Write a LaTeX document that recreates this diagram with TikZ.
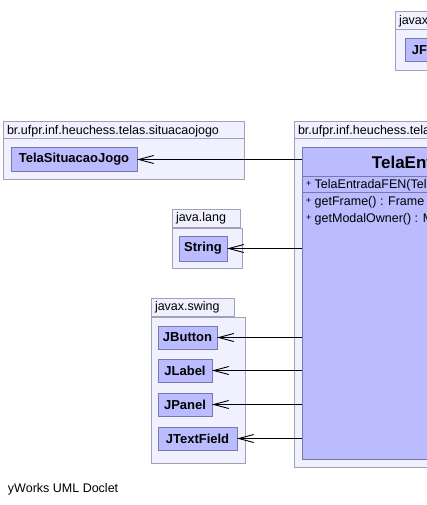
\documentclass[tikz,border=0pt]{standalone}
\usepackage{fontspec}
\setmainfont{Liberation Sans}
\usetikzlibrary{arrows.meta, positioning}

\definecolor{pkgfill}{RGB}{240,240,255}
\definecolor{pkgline}{RGB}{160,160,184}
\definecolor{classfill}{RGB}{187,187,255}
\definecolor{classline}{RGB}{120,120,170}

\begin{document}
\begin{tikzpicture}[
    x=1pt, y=-1pt,
    every node/.style={inner sep=0pt, outer sep=0pt},
    pkgtab/.style={rectangle, draw=pkgline, fill=pkgfill, line width=1pt, anchor=north west, minimum height=18pt, inner xsep=4pt, text width=#1, align=left, font=\fontsize{12.5}{14}\selectfont},
    pkgbody/.style={rectangle, draw=pkgline, fill=pkgfill, line width=1pt, anchor=north west},
    classbox/.style={rectangle, draw=classline, fill=classfill, line width=1pt, anchor=north west, minimum height=23pt, font=\fontsize{13}{15}\selectfont\bfseries},
    member/.style={anchor=west, font=\fontsize{12.5}{14}\selectfont},
    dep/.style={-{Straight Barb[length=15pt, width=8pt]}, line width=0.9pt, black}
]
\useasboundingbox (0,0) rectangle (427,505);
\clip (0,0) rectangle (427,505);

% Package: javax.swing (top right)
\node[pkgtab=90pt] (frametab) at (395,12) {javax.swing};
\node[pkgbody, minimum width=120pt, minimum height=41pt] (framepkg) at (395,30) {};
\node[classbox, minimum width=60pt] (jframe) at (405,39) {JFrame};

% Package: situacaojogo
\node[pkgtab=233pt] (sittab) at (3,122) {br.ufpr.inf.heuchess.telas.situacaojogo};
\node[pkgbody, minimum width=241pt, minimum height=40pt] (sitpkg) at (3,139) {};
\node[classbox, minimum width=126pt] (sitjogo) at (11,148) {TelaSituacaoJogo};

% Package: main class
\node[pkgtab=250pt] (maintab) at (294,122) {br.ufpr.inf.heuchess.telas.entradafen};
\node[pkgbody, minimum width=266pt, minimum height=328pt] (mainpkg) at (294,139) {};
\node[classbox, minimum width=250pt, minimum height=311pt] (tela) at (302,148) {};
\node[font=\fontsize{17}{19}\selectfont\bfseries] (telaname) at (437,162) {TelaEntradaFEN};
\draw[classline, line width=1pt] ([yshift=-28pt]tela.north west) -- ([yshift=-28pt]tela.north east);
\draw[classline, line width=1pt] ([yshift=-44pt]tela.north west) -- ([yshift=-44pt]tela.north east);
\node[member] (ctor) at (306,185) {\raisebox{2pt}{\small +} TelaEntradaFEN(TelaSituacaoJogo)};
\node[member] (getframe) at (306,202) {\raisebox{2pt}{\small +} getFrame() : Frame};
\node[member] (getowner) at (306,219) {\raisebox{2pt}{\small +} getModalOwner() : Modal};

% Package: java.lang
\node[pkgtab=60pt] (langtab) at (172,209) {java.lang};
\node[pkgbody, minimum width=70pt, minimum height=40pt] (langpkg) at (172,228) {};
\node[classbox, minimum width=48pt, minimum height=25pt] (string) at (179,236) {String};

% Package: javax.swing
\node[pkgtab=75pt] (swingtab) at (151,298) {javax.swing};
\node[pkgbody, minimum width=94pt, minimum height=146pt] (swingpkg) at (151,317) {};
\node[classbox, minimum width=59pt] (jbutton) at (158,326) {JButton};
\node[classbox, minimum width=54pt] (jlabel) at (158,359) {JLabel};
\node[classbox, minimum width=54pt] (jpanel) at (158,393) {JPanel};
\node[classbox, minimum width=79pt] (jtextfield) at (158,427) {JTextField};

% Dependencies
\draw[dep] (tela.west |- sitjogo.east) -- (sitjogo.east);
\draw[dep] (tela.west |- string.east) -- (string.east);
\draw[dep] (tela.west |- jbutton.east) -- (jbutton.east);
\draw[dep] (tela.west |- jlabel.east) -- (jlabel.east);
\draw[dep] (tela.west |- jpanel.east) -- (jpanel.east);
\draw[dep] (tela.west |- jtextfield.east) -- (jtextfield.east);

\node[anchor=west, font=\fontsize{12.5}{14}\selectfont] (doclet) at (8,489) {yWorks UML Doclet};
\end{tikzpicture}
\end{document}
